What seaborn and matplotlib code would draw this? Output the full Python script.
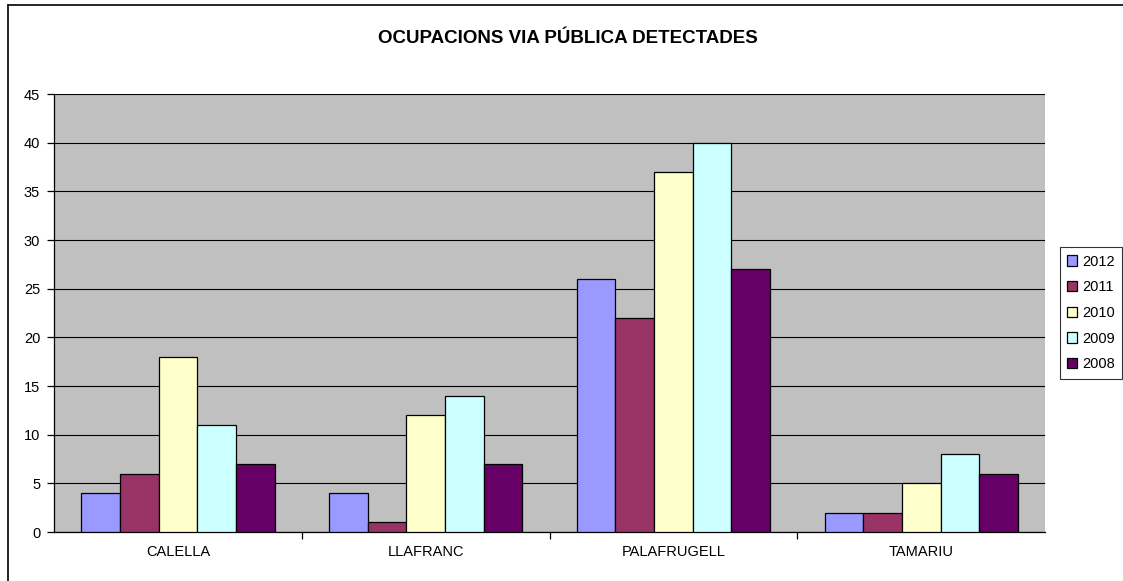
import matplotlib
matplotlib.use("Agg")
import matplotlib.pyplot as plt
from matplotlib.lines import Line2D
import seaborn as sns
import pandas as pd

towns = ["CALELLA", "LLAFRANC", "PALAFRUGELL", "TAMARIU"]
years = ["2012", "2011", "2010", "2009", "2008"]
v2012 = [4, 4, 26, 2]
v2011 = [6, 1, 22, 2]
v2010 = [18, 12, 37, 5]
v2009 = [11, 14, 40, 8]
v2008 = [7, 7, 27, 6]
colors = ["#9999FF", "#993366", "#FFFFCC", "#CCFFFF", "#660066"]

rows = []
for y, vals in zip(years, [v2012, v2011, v2010, v2009, v2008]):
    for t, v in zip(towns, vals):
        rows.append({"town": t, "year": y, "value": v})
df = pd.DataFrame(rows)

sns.set_style("white")
plt.rcParams["font.family"] = ["Liberation Sans", "DejaVu Sans"]
plt.rcParams["text.color"] = "black"
plt.rcParams["xtick.color"] = "black"
plt.rcParams["ytick.color"] = "black"

fig = plt.figure(figsize=(11.23, 5.81), dpi=100)
ax = fig.add_axes([0.0481, 0.0843, 0.8825, 0.7539])
ax.set_facecolor("#C0C0C0")

sns.barplot(data=df, x="town", y="value", hue="year", hue_order=years,
            order=towns, palette=colors, width=0.78, gap=0,
            edgecolor="black", linewidth=0.9, saturation=1, ax=ax, zorder=3)

ax.set_ylim(0, 45)
ax.set_xlim(-0.5, 3.5)
ax.set_yticks(range(0, 46, 5))
ax.yaxis.grid(True, color="black", linewidth=0.8, zorder=0)
ax.set_axisbelow(True)
ax.set_xlabel("")
ax.set_ylabel("")
for s in ["top", "right"]:
    ax.spines[s].set_visible(False)
for s in ["left", "bottom"]:
    ax.spines[s].set_color("black")
    ax.spines[s].set_linewidth(0.9)
ax.tick_params(axis="y", length=5, width=0.9, colors="black", labelsize=10.5, left=True,
               direction="out", pad=5)
ax.tick_params(axis="x", which="major", length=0, labelsize=10.5, pad=9, labelcolor="black")
ax.set_xticks([0.5, 1.5, 2.5], minor=True)
ax.tick_params(axis="x", which="minor", length=5, width=0.9, color="black", bottom=True, direction="out")

fig.text(0.506, 0.934, "OCUPACIONS VIA PÚBLICA DETECTADES", ha="center", va="center",
         fontsize=13.5, fontweight="bold", color="black")

leg = ax.legend(title=None, loc="center left", bbox_to_anchor=(0.9439, 0.4613),
                bbox_transform=fig.transFigure, frameon=True, fancybox=False,
                edgecolor="black", fontsize=10.5, handlelength=0.7, handleheight=0.7,
                handletextpad=0.3, labelspacing=0.8, borderpad=0.5, borderaxespad=0)
leg.get_frame().set_linewidth(0.8)
for txt in leg.get_texts():
    txt.set_color("black")

# outer chart border (only the left and top edges fall inside the picture)
fig.add_artist(Line2D([0.0067, 0.0067], [-0.01, 0.991], transform=fig.transFigure,
                      color="black", linewidth=1.2))
fig.add_artist(Line2D([0.0067, 1.01], [0.991, 0.991], transform=fig.transFigure,
                      color="black", linewidth=1.2))

fig.savefig("out.png", dpi=100)
